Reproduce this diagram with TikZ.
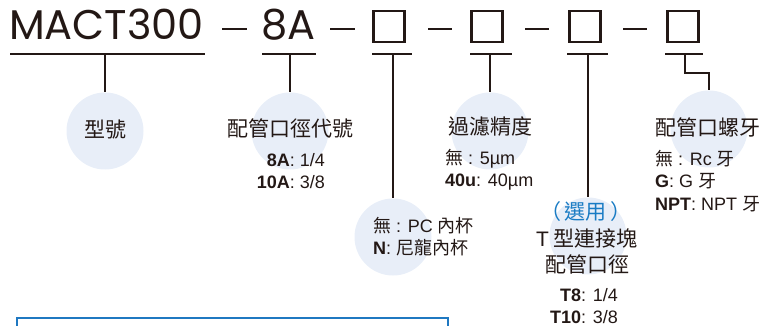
\documentclass[tikz,border=0pt]{standalone}
\usepackage{fontspec}
\setmainfont{Liberation Sans}
\newfontfamily\cjk{Noto Sans CJK TC}
\newfontfamily\titlefont{Poppins}
\usetikzlibrary{positioning}
\definecolor{ink}{HTML}{231815}
\definecolor{bubblefill}{HTML}{E8EEF8}
\definecolor{optblue}{HTML}{1A7CC4}
\definecolor{framblue}{HTML}{1F78C1}
\newcommand{\zh}[1]{{\cjk #1}}
\tikzstyle{code} = [inner sep=0, text=ink, font=\titlefont\fontsize{41.5}{41.5}\selectfont]
\tikzstyle{slot} = [draw=ink, line width=2.6pt, minimum size=31pt, inner sep=0]
\tikzstyle{bar} = [draw=ink, line width=2.6pt]
\tikzstyle{uline} = [draw=ink, line width=1.4pt]
\tikzstyle{link} = [draw=ink, line width=1.4pt]
\tikzstyle{bubble} = [circle, fill=bubblefill, minimum size=77pt, inner sep=0]
\tikzstyle{head} = [inner sep=0, text=ink, align=center, font=\cjk\fontsize{21}{26.5}\selectfont]
\tikzstyle{opts} = [inner sep=0, text=ink, font=\fontsize{18}{22.5}\selectfont]

\begin{document}
\begin{tikzpicture}[x=1pt, y=-1pt]
    \useasboundingbox (0,0) rectangle (763,326);

    % Code line
    \node[code, anchor=base west] (model) at (9,40) {MACT300};
    \node[code, anchor=base west] (bore)  at (261,40) {8A};
    \node[slot] (cup)    at (389,26.5) {};
    \node[slot] (filter) at (487,26.5) {};
    \node[slot] (tblock) at (585,26.5) {};
    \node[slot] (thread) at (683,26.5) {};
    \draw[bar] (222,29) -- (247,29);
    \draw[bar] (330,29) -- (355,29);
    \draw[bar] (428,29) -- (452,29);
    \draw[bar] (525,29) -- (549,29);
    \draw[bar] (623,29) -- (647,29);

    % Underlines
    \draw[uline] (10,54) -- (205,54);
    \draw[uline] (262,54) -- (316,54);
    \draw[uline] (372,54) -- (412,54);
    \draw[uline] (470,54) -- (512,54);
    \draw[uline] (567,54) -- (608,54);
    \draw[uline] (665,54) -- (703,54);
    \coordinate (u0) at (105,54);
    \coordinate (u1) at (290,54);
    \coordinate (u2) at (393,54);
    \coordinate (u3) at (490,54);
    \coordinate (u4) at (588,54);
    \coordinate (u5) at (685,54);

    % Bubbles
    \node[bubble] (c0) at (105,131) {};
    \node[bubble] (c1) at (290,131) {};
    \node[bubble] (c2) at (393,237) {};
    \node[bubble] (c3) at (490,131) {};
    \node[bubble] (c4) at (588,236) {};
    \node[bubble] (c5) at (709,129) {};

    % Links
    \draw[link] (u0) -- (c0.north);
    \draw[link] (u1) -- (c1.north);
    \draw[link] (u2) -- (c2.north);
    \draw[link] (u3) -- (c3.north);
    \draw[link] (u4) -- (c4.north);
    \draw[link] (u5) -- ++(0,19) -| (c5.north);

    % Headings
    \node[head] (h0) at (105,130) {型號};
    \node[head] (h1) at (290,128) {配管口徑代號};
    \node[head] (h3) at (490,127) {過濾精度};
    \node[head] (h5) at (708,127) {配管口螺牙};
    \node[head, text=optblue] (opt) at (586,212) {（\,選用\,）};
    \node[head] (h4) at (587,251.5) {{\rmfamily T} 型連接塊\\配管口徑};

    % Options
    \node[opts, anchor=east, align=right] (o1) at (325,171) {\textbf{8A}: 1/4\\\textbf{10A}: 3/8};
    \node[opts, anchor=west, align=left] (o2) at (373,236.5) {\zh{無} : PC \zh{內杯}\\\textbf{N}: \zh{尼龍內杯}};
    \node[opts, anchor=west, align=left] (o3) at (445,169.5) {\zh{無} : 5µm\\\textbf{40u}: 40µm};
    \node[opts, anchor=east, align=right] (o4) at (618,306) {\textbf{T8}: 1/4\\\textbf{T10}: 3/8};
    \node[opts, anchor=west, align=left] (o5) at (655,181) {\zh{無} : Rc \zh{牙}\\\textbf{G}: G \zh{牙}\\\textbf{NPT}: NPT \zh{牙}};

    % Frame below
    \draw[framblue, line width=1.8pt] (17,318) rectangle (448,360);
\end{tikzpicture}
\end{document}
